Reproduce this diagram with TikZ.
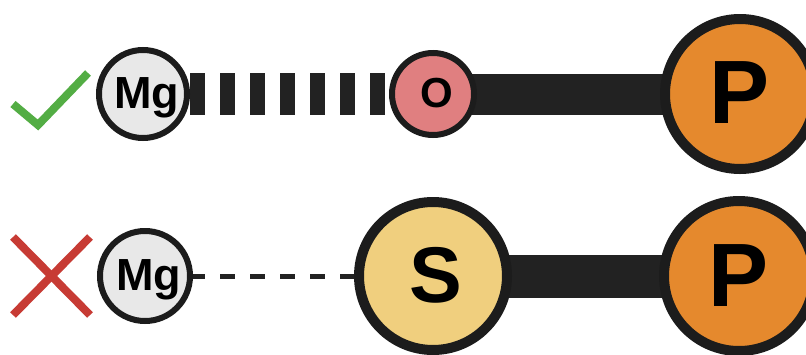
\documentclass[tikz,border=0pt]{standalone}
\usepackage{fontspec}
\setmainfont{Liberation Sans}
\pgfdeclarelayer{paper}
\pgfdeclarelayer{bonds}
\pgfsetlayers{paper,bonds,main}
\definecolor{ringcol}{HTML}{1C1C1C}
\definecolor{bondcol}{HTML}{222222}
\definecolor{mgfill}{HTML}{E8E8E8}
\definecolor{ofill}{HTML}{E07F80}
\definecolor{pfill}{HTML}{E5892D}
\definecolor{sfill}{HTML}{F0CF7E}
\definecolor{okgreen}{HTML}{53AD44}
\definecolor{badred}{HTML}{C73B34}
\begin{document}
\begin{tikzpicture}[x=1pt,y=-1pt,
  atom/.style={circle,draw=ringcol,inner sep=0pt,text=black,text depth=0pt},
  smallatom/.style={atom,line width=6pt},
  bigatom/.style={atom,line width=10pt},
  bond/.style={draw=bondcol,line cap=butt},
  signstroke/.style={line width=8pt,line cap=butt}]
  \useasboundingbox (0,0) rectangle (806,354);
  \begin{pgfonlayer}{paper}
    \fill[white] (0,0) rectangle (806,354);
  \end{pgfonlayer}
  \clip (0,0) rectangle (806,354);

  % upper molecule: Mg ... O -- P
  \node[smallatom,fill=mgfill,minimum size=88pt,text height=28.5pt,
        font=\fontsize{45}{45}\selectfont\bfseries] (mg1) at (143,94) {\hspace{7pt}Mg};
  \node[smallatom,fill=ofill,minimum size=82pt,text height=27pt,
        font=\fontsize{42}{42}\selectfont\bfseries] (o1) at (433,94) {\hspace{7pt}O};
  \node[bigatom,fill=pfill,minimum size=150pt,text height=58pt,
        font=\fontsize{90}{90}\selectfont\bfseries] (p1) at (740,94) {P};

  % lower molecule: Mg - - S -- P
  \node[smallatom,fill=mgfill,minimum size=90pt,text height=28.5pt,
        font=\fontsize{45}{45}\selectfont\bfseries] (mg2) at (145,276) {\hspace{7pt}Mg};
  \node[bigatom,fill=sfill,minimum size=148pt,text height=52pt,
        font=\fontsize{79}{79}\selectfont\bfseries] (s2) at (433,276) {\hspace{5pt}S};
  \node[bigatom,fill=pfill,minimum size=150pt,text height=60pt,
        font=\fontsize{90}{90}\selectfont\bfseries] (p2) at (739,276) {P};

  % bonds run centre to centre, kept behind the atoms
  \begin{pgfonlayer}{bonds}
    \draw[bond,line width=42pt,dash pattern=on 15pt off 15pt,dash phase=13pt]
      (mg1.center) -- (o1.center);
    \draw[bond,line width=41pt] (o1.center) -- (p1.center);
    \draw[bond,line width=5pt,dash pattern=on 15pt off 15pt,dash phase=15pt]
      (mg2.center) -- (s2.center);
    \draw[bond,line width=43pt] (s2.center) -- (p2.center);
  \end{pgfonlayer}

  % tick and cross
  \coordinate (tickA) at (13,104);
  \coordinate (tickB) at (38,125);
  \coordinate (tickC) at (88,73);
  \draw[signstroke,draw=okgreen] (tickA) -- (tickB) -- (tickC);
  \coordinate (crossA) at (13,237);
  \coordinate (crossB) at (90,315);
  \coordinate (crossC) at (90,237);
  \coordinate (crossD) at (13,315);
  \draw[signstroke,draw=badred] (crossA) -- (crossB);
  \draw[signstroke,draw=badred] (crossC) -- (crossD);
\end{tikzpicture}
\end{document}
